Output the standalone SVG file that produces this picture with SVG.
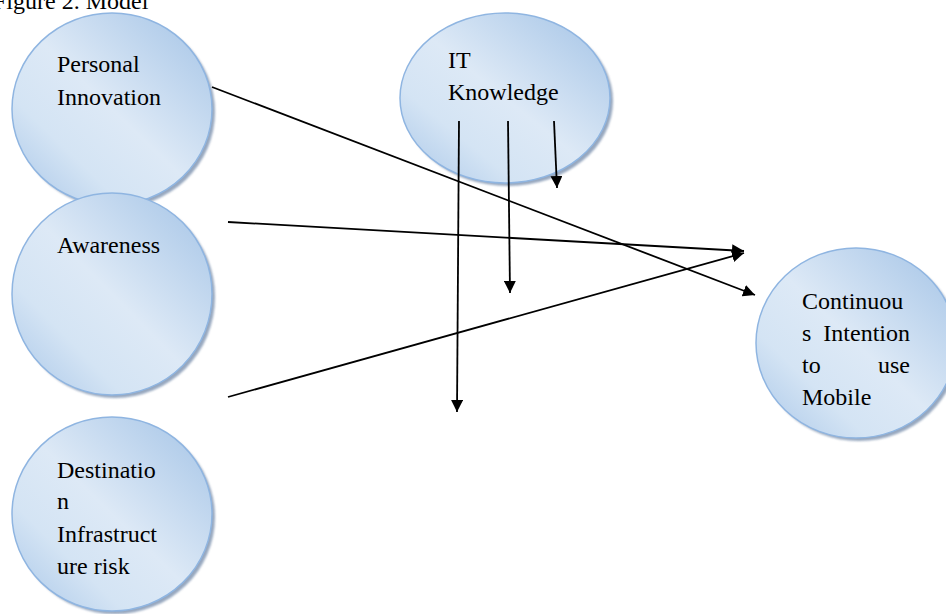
<svg xmlns="http://www.w3.org/2000/svg" width="946" height="614" viewBox="0 0 946 614">
  <defs>
    <linearGradient id="bubble" x1="1" y1="0" x2="0" y2="1">
      <stop offset="0" stop-color="#a3c3e6"/>
      <stop offset="0.5" stop-color="#dde9f6"/>
      <stop offset="0.72" stop-color="#d4e4f4"/>
      <stop offset="1" stop-color="#a8c6e8"/>
    </linearGradient>
    <filter id="soft" x="-10%" y="-10%" width="120%" height="120%">
      <feGaussianBlur stdDeviation="1.2"/>
    </filter>
    <marker id="arrow" viewBox="0 0 10 10" markerWidth="12" markerHeight="12" refX="10" refY="5" orient="auto" markerUnits="userSpaceOnUse">
      <path d="M0,0 L10,5 L0,10 z" fill="#000"/>
    </marker>
  </defs>
  <style>
    .shadow { fill: #7d92af; opacity: 0.8; filter: url(#soft); }
    .bubble { fill: url(#bubble); stroke: #8fb5e1; stroke-width: 1.5; }
    .label { font-family: "Liberation Serif", "Times New Roman", serif; font-size: 24px; fill: #000; }
    .link { stroke: #000; stroke-width: 1.8; fill: none; marker-end: url(#arrow); }
  </style>

  <text class="label" x="-7" y="9">Figure 2. Model</text>

  <g id="personal-innovation">
    <ellipse class="shadow" cx="115" cy="112" rx="100" ry="96"/>
    <ellipse class="bubble" cx="112" cy="109" rx="100" ry="96"/>
    <text class="label" x="57" y="72">Personal</text>
    <text class="label" x="57" y="105">Innovation</text>
  </g>

  <g id="awareness">
    <ellipse class="shadow" cx="115" cy="297" rx="100" ry="101"/>
    <ellipse class="bubble" cx="112" cy="294" rx="100" ry="101"/>
    <text class="label" x="57" y="253">Awareness</text>
  </g>

  <g id="destination-infrastructure-risk">
    <ellipse class="shadow" cx="115" cy="517" rx="100" ry="97"/>
    <ellipse class="bubble" cx="112" cy="514" rx="100" ry="97"/>
    <text class="label" x="57" y="478">Destinatio</text>
    <text class="label" x="57" y="509">n</text>
    <text class="label" x="57" y="542">Infrastruct</text>
    <text class="label" x="57" y="574">ure risk</text>
  </g>

  <g id="it-knowledge">
    <ellipse class="shadow" cx="508" cy="101" rx="105" ry="85"/>
    <ellipse class="bubble" cx="505" cy="98" rx="105" ry="85"/>
    <text class="label" x="448" y="68">IT</text>
    <text class="label" x="448" y="100">Knowledge</text>
  </g>

  <g id="continuous-intention">
    <ellipse class="shadow" cx="859" cy="346" rx="100" ry="95"/>
    <ellipse class="bubble" cx="856" cy="343" rx="100" ry="95"/>
    <text class="label" x="802" y="309">Continuou</text>
    <text class="label" x="802" y="341">s</text>
    <text class="label" x="910" y="341" text-anchor="end">Intention</text>
    <text class="label" x="802" y="373">to</text>
    <text class="label" x="910" y="373" text-anchor="end">use</text>
    <text class="label" x="802" y="405">Mobile</text>
  </g>

  <g id="connectors">
    <line class="link" x1="212" y1="87" x2="755" y2="295"/>
    <line class="link" x1="228" y1="222" x2="744" y2="251"/>
    <line class="link" x1="228" y1="397" x2="744" y2="253"/>
    <line class="link" x1="459" y1="121" x2="457" y2="412"/>
    <line class="link" x1="508" y1="121" x2="510" y2="293"/>
    <line class="link" x1="554" y1="121" x2="557" y2="188"/>
  </g>
</svg>
